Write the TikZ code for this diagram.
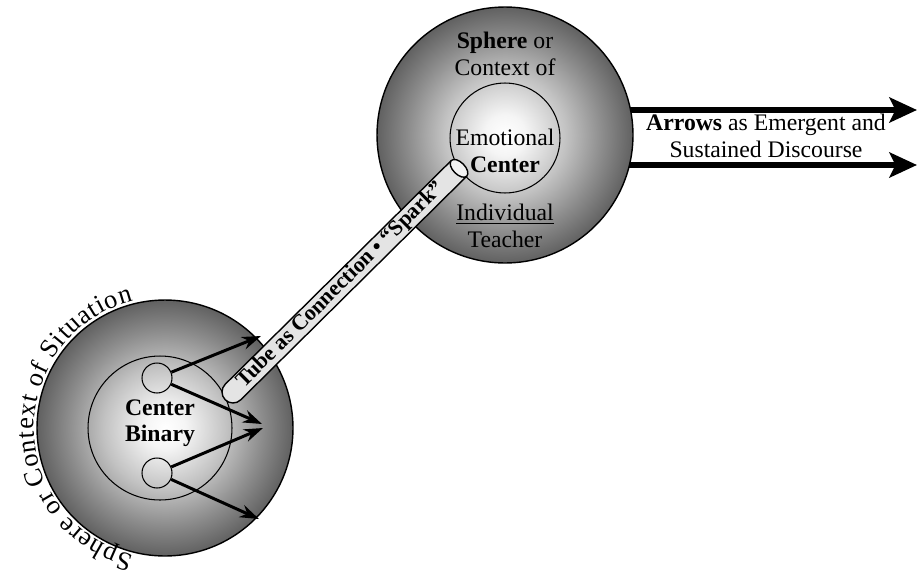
\documentclass[tikz,border=0pt]{standalone}
\usepackage{fontspec}
\setmainfont{Liberation Serif}
\usepackage{xcolor}
\usepackage{tikz}
\usetikzlibrary{arrows.meta, calc, decorations.text}
\definecolor{tubegray}{HTML}{E4E4E4}
\definecolor{tubeend}{HTML}{F2F2F2}
\pgfdeclareradialshading{spheregray}{\pgfpointorigin}{color(0bp)=(white); color(4bp)=(white!96!black); color(12bp)=(black!24); color(19bp)=(black!45); color(25bp)=(black!62); color(50bp)=(black!62)}
\tikzset{
  sphere/.style={circle, draw, line width=0.8pt, shading=spheregray, minimum size=5.12cm, inner sep=0pt},
  ring/.style={circle, draw, line width=0.6pt, inner sep=0pt},
  lbl/.style={align=center, inner sep=0pt, font=\fontsize{13.5}{15}\selectfont},
  discourse/.style={line width=0.12cm, -{Stealth[length=0.55cm, width=0.5cm, inset=0.12cm]}},
  binarrow/.style={line width=1.7pt, -{Stealth[length=0.38cm, width=0.26cm]}},
}

\begin{document}
\begin{tikzpicture}[x=0.02cm, y=0.02cm]
    \useasboundingbox (0,0) rectangle (919,-575);
    % Centres and free arrow ends
    \coordinate (ctrT) at (505,-135);
    \coordinate (ctrB) at (165,-428);
    \coordinate (tipA) at (917,-110);
    \coordinate (tipB) at (917,-165);
    \coordinate (tip1) at (261,-336);
    \coordinate (tip2) at (262,-424);
    \coordinate (tip3) at (263,-428);
    \coordinate (tip4) at (259,-519);

    % Discourse arrows (start under the sphere)
    \draw[discourse] (ctrT |- tipA) -- (tipA);
    \draw[discourse] (ctrT |- tipB) -- (tipB);

    % Individual teacher sphere
    \node[sphere] (sphereT) at (ctrT) {};
    \node[ring, minimum size=2.2cm] (emoT) at (505,-138) {};
    \node[lbl] (sphereTxt) at (505,-54) {\textbf{Sphere} or\\Context of};
    \node[lbl] (emoTxt) at (505,-151) {Emotional\\\textbf{Center}};
    \node[lbl] (teachTxt) at (505,-226) {\underline{Individual}\\Teacher};
    \node[lbl] (arrowTxt) at (766,-136) {\textbf{Arrows} as Emergent and\\Sustained Discourse};

    % Situation sphere
    \node[sphere] (sphereB) at (ctrB) {};
    \node[ring, minimum size=2.88cm] (binB) at (160,-428) {};
    \node[ring, minimum size=0.6cm] (binA1) at (157,-378) {};
    \node[ring, minimum size=0.6cm] (binA2) at (157,-473) {};
    \node[lbl] (binTxt) at (160,-423) {\textbf{Center}\\\textbf{Binary}};
    \path[decorate, decoration={text along path, text align={fit to path},
        text={|\fontsize{15}{15}\selectfont|Sphere or Context of Situation}}]
        ($(ctrB)+(256:131)$) arc[start angle=256, end angle=104, radius=131];

    % Binary arrows
    \draw[binarrow] (binA1) -- (tip1);
    \draw[binarrow] (binA1) -- (tip2);
    \draw[binarrow] (binA2) -- (tip3);
    \draw[binarrow] (binA2) -- (tip4);

    % Tube
    \begin{scope}[shift={(233,-392)}, rotate=44.7]
        \draw[line width=0.8pt, fill=tubegray] (318,-11) -- (0,-11) arc[start angle=-90, end angle=-270, radius=11] -- (318,11);
        \draw[line width=0.8pt, fill=tubeend] (318,0) ellipse[x radius=6, y radius=11];
        \node[inner sep=0pt, rotate=44.7, font=\fontsize{12.5}{12.5}\selectfont\bfseries] (tubeTxt) at (152,0) {Tube as Connection • “Spark”};
    \end{scope}
\end{tikzpicture}
\end{document}
